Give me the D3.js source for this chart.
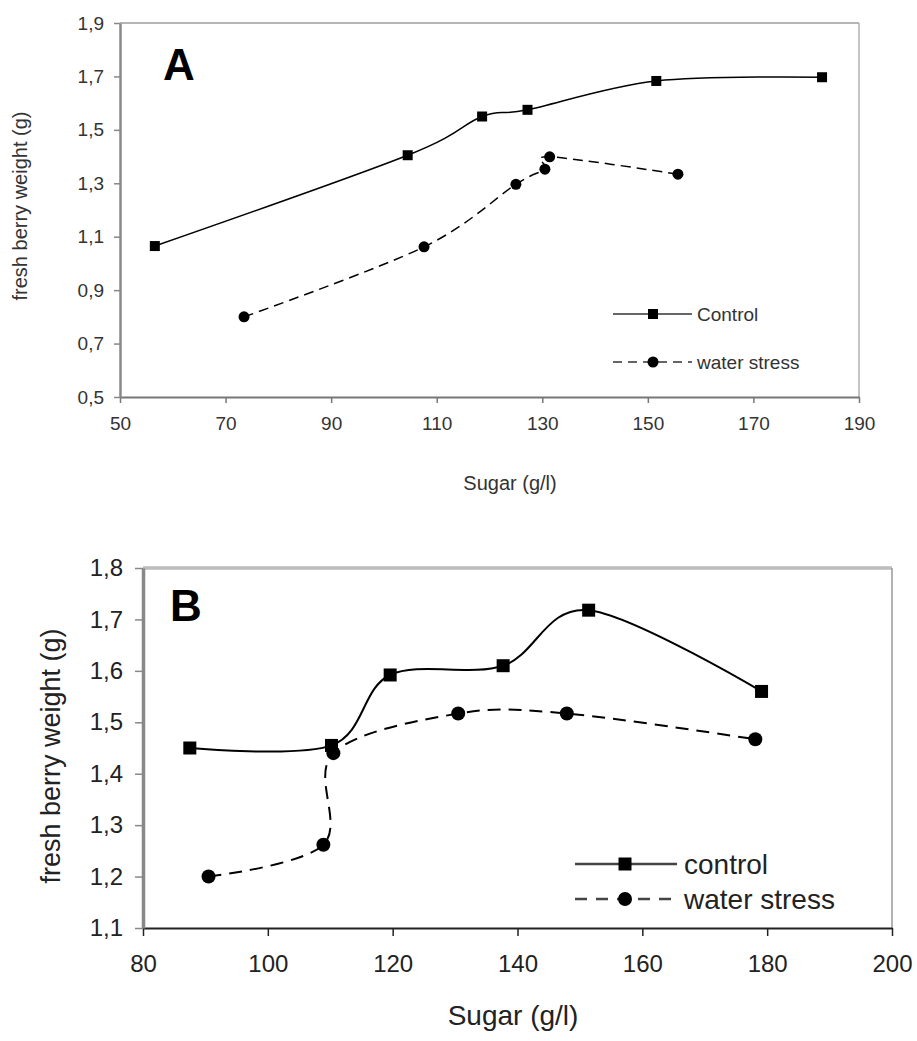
<!DOCTYPE html>
<html>
<head>
<meta charset="utf-8">
<script src="https://cdn.jsdelivr.net/npm/d3@7/dist/d3.min.js"></script>
<style>
  html, body { margin: 0; padding: 0; background: #fff; }
  svg { display: block; }
  text { font-family: "Liberation Sans", Arial, sans-serif; }
</style>
</head>
<body>
<svg id="chart" width="917" height="1041"></svg>
<script>
// ---------- Data: panel A ----------
const seriesNames = ["Control", "water stress"];
const seriesNamesB = ["control", "water stress"];

const ctrlA_x = [56.6, 104.5, 118.6, 127.2, 151.6, 183.0];
const ctrlA_y = [1.065, 1.405, 1.550, 1.575, 1.683, 1.697];
const wsA_x   = [73.5, 107.6, 125.0, 130.5, 131.4, 155.7];
const wsA_y   = [0.800, 1.062, 1.296, 1.353, 1.399, 1.334];

const xTicksA = [50, 70, 90, 110, 130, 150, 170, 190];
const yTicksA = [0.5, 0.7, 0.9, 1.1, 1.3, 1.5, 1.7, 1.9];

// ---------- Data: panel B ----------
const ctrlB_x = [87.5, 110.2, 119.6, 137.7, 151.4, 179.1];
const ctrlB_y = [1.450, 1.455, 1.592, 1.610, 1.718, 1.560];
const wsB_x   = [90.5, 108.9, 110.5, 130.5, 147.9, 178.1];
const wsB_y   = [1.200, 1.262, 1.440, 1.517, 1.517, 1.467];

const xTicksB = [80, 100, 120, 140, 160, 180, 200];
const yTicksB = [1.1, 1.2, 1.3, 1.4, 1.5, 1.6, 1.7, 1.8];

const xTitle = "Sugar (g/l)";
const yTitle = "fresh berry weight (g)";

const svg = d3.select("#chart");
const fmt = d => d.toFixed(1).replace(".", ",");
const zip = (xs, ys) => xs.map((x, i) => ({x, y: ys[i]}));

function panel(cfg) {
  const g = svg.append("g");
  const x = d3.scaleLinear().domain(cfg.xDomain).range([cfg.left, cfg.right]);
  const y = d3.scaleLinear().domain(cfg.yDomain).range([cfg.bottom, cfg.top]);

  // top & right frame
  g.append("line").attr("x1", cfg.left).attr("x2", cfg.right).attr("y1", cfg.top).attr("y2", cfg.top)
    .attr("stroke", cfg.topColor).attr("stroke-width", cfg.topW);
  g.append("line").attr("x1", cfg.right).attr("x2", cfg.right).attr("y1", cfg.top).attr("y2", cfg.bottom)
    .attr("stroke", cfg.rightColor).attr("stroke-width", cfg.rightW);

  // axes
  const ax = g.append("g").attr("transform", `translate(0,${cfg.bottom})`)
    .call(d3.axisBottom(x).tickValues(cfg.xTicks).tickSize(cfg.tickLen).tickSizeOuter(0).tickPadding(cfg.xPad).tickFormat(d3.format("d")));
  ax.select(".domain").attr("stroke", cfg.bottomColor).attr("stroke-width", cfg.bottomW);
  ax.selectAll(".tick line").attr("stroke", cfg.bottomColor).attr("stroke-width", 1.5);
  ax.selectAll("text").attr("font-size", cfg.tickFont).attr("fill", cfg.textColor)
    .attr("font-family", "Liberation Sans, Arial, sans-serif");

  const ay = g.append("g").attr("transform", `translate(${cfg.left},0)`)
    .call(d3.axisLeft(y).tickValues(cfg.yTicks).tickSize(cfg.tickLen).tickSizeOuter(0).tickPadding(cfg.yPad).tickFormat(fmt));
  ay.select(".domain").attr("stroke", cfg.leftColor).attr("stroke-width", cfg.leftW);
  ay.selectAll(".tick line").attr("stroke", cfg.leftColor).attr("stroke-width", 1.5);
  ay.selectAll("text").attr("font-size", cfg.tickFont).attr("fill", cfg.textColor)
    .attr("font-family", "Liberation Sans, Arial, sans-serif");

  // titles
  g.append("text").attr("x", cfg.xTitleX).attr("y", cfg.xTitleY).attr("text-anchor", "middle")
    .attr("font-size", cfg.xTitleFont).attr("fill", cfg.textColor).text(xTitle);
  g.append("text").attr("transform", `translate(${cfg.yTitleX},${cfg.yTitleY}) rotate(-90)`)
    .attr("text-anchor", "middle").attr("dominant-baseline", "central")
    .attr("font-size", cfg.yTitleFont).attr("fill", cfg.textColor).text(yTitle);
  g.append("text").attr("x", cfg.letterX).attr("y", cfg.letterY).attr("font-size", 44)
    .attr("font-weight", "bold").attr("fill", "#000").text(cfg.letter);

  const line = d3.line().x(d => x(d.x)).y(d => y(d.y)).curve(d3.curveCardinal.tension(0));

  // series
  g.append("path").datum(cfg.ws).attr("d", line).attr("fill", "none")
    .attr("stroke", "#000").attr("stroke-width", cfg.lineW).attr("stroke-dasharray", cfg.dash);
  g.append("path").datum(cfg.ctrl).attr("d", line).attr("fill", "none")
    .attr("stroke", "#000").attr("stroke-width", cfg.lineW);

  g.selectAll(".sq").data(cfg.ctrl).enter().append("rect")
    .attr("x", d => x(d.x) - cfg.sq / 2).attr("y", d => y(d.y) - cfg.sq / 2)
    .attr("width", cfg.sq).attr("height", cfg.sq).attr("fill", "#000");
  g.selectAll(".ci").data(cfg.ws).enter().append("circle")
    .attr("cx", d => x(d.x)).attr("cy", d => y(d.y)).attr("r", cfg.cr).attr("fill", "#000");

  // legend
  const L = cfg.legend;
  L.rows.forEach((row, i) => {
    const ly = L.ys[i];
    g.append("line").attr("x1", L.x1).attr("x2", L.x2).attr("y1", ly).attr("y2", ly)
      .attr("stroke", L.lineColor).attr("stroke-width", L.lineW)
      .attr("stroke-dasharray", i === 1 ? cfg.legendDash : null);
    if (i === 0) {
      g.append("rect").attr("x", L.mx - cfg.sq / 2).attr("y", ly - cfg.sq / 2)
        .attr("width", cfg.sq).attr("height", cfg.sq).attr("fill", "#000");
    } else {
      g.append("circle").attr("cx", L.mx).attr("cy", ly).attr("r", cfg.cr).attr("fill", "#000");
    }
    g.append("text").attr("x", L.tx).attr("y", ly).attr("dominant-baseline", "central")
      .attr("font-size", L.font).attr("fill", cfg.textColor).text(row);
  });
}

panel({
  left: 120, right: 859, top: 23, bottom: 397,
  xDomain: [50, 190], yDomain: [0.5, 1.9],
  xTicks: xTicksA, yTicks: yTicksA,
  tickLen: 6, xPad: 14, yPad: 10, tickFont: 19, textColor: "#333",
  topColor: "#b5b5b5", topW: 2, rightColor: "#b0b0b0", rightW: 1.5,
  bottomColor: "#777", bottomW: 2, leftColor: "#888", leftW: 2.5,
  xTitleX: 510, xTitleY: 490, xTitleFont: 20,
  yTitleX: 20, yTitleY: 206, yTitleFont: 20,
  letter: "A", letterX: 163, letterY: 80,
  ctrl: zip(ctrlA_x, ctrlA_y), ws: zip(wsA_x, wsA_y),
  lineW: 1.5, dash: "10,6", legendDash: "9,6",
  sq: 10, cr: 5.5,
  legend: { rows: seriesNames, ys: [314, 362], x1: 613, x2: 692, mx: 653, tx: 697,
            font: 19, lineColor: "#333", lineW: 1.5 }
});

panel({
  left: 143, right: 892, top: 568, bottom: 928,
  xDomain: [80, 200], yDomain: [1.1, 1.8],
  xTicks: xTicksB, yTicks: yTicksB,
  tickLen: 8, xPad: 19, yPad: 12, tickFont: 24, textColor: "#222",
  topColor: "#bdbdbd", topW: 3.5, rightColor: "#999", rightW: 1.5,
  bottomColor: "#222", bottomW: 2, leftColor: "#888", leftW: 3.5,
  xTitleX: 513, xTitleY: 1025, xTitleFont: 28,
  yTitleX: 51, yTitleY: 756, yTitleFont: 27,
  letter: "B", letterX: 170, letterY: 621,
  ctrl: zip(ctrlB_x, ctrlB_y), ws: zip(wsB_x, wsB_y),
  lineW: 2, dash: "13,8", legendDash: "12,9",
  sq: 13, cr: 7,
  legend: { rows: seriesNamesB, ys: [864, 899], x1: 575, x2: 677, mx: 625, tx: 684,
            font: 28, lineColor: "#444", lineW: 2.5 }
});
</script>
</body>
</html>
